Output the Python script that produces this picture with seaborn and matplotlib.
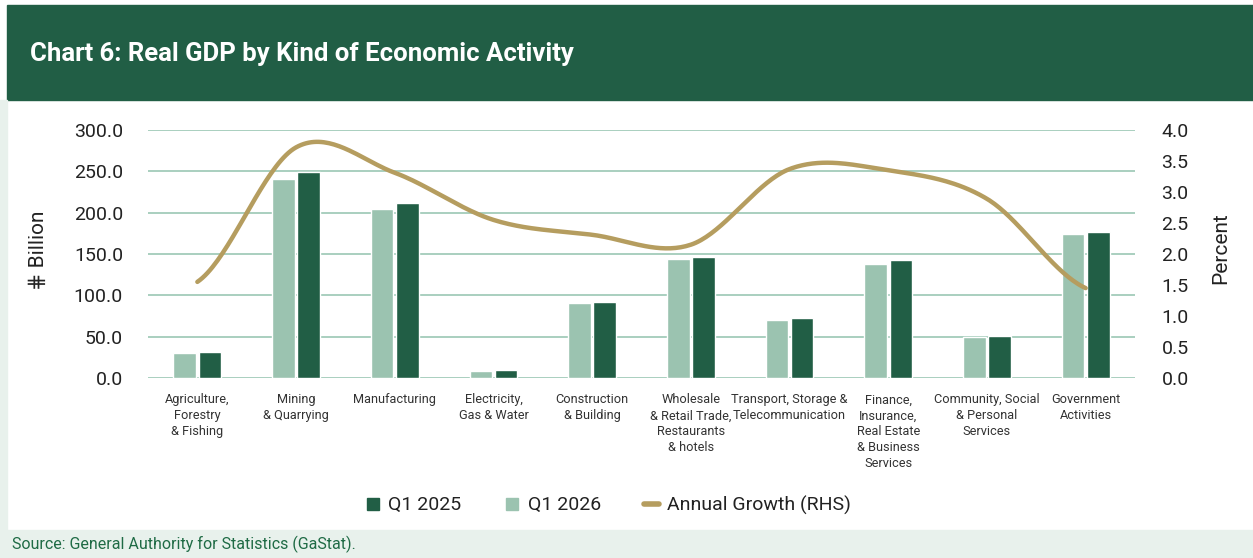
import numpy as np
import pandas as pd
import matplotlib
matplotlib.use("Agg")
import matplotlib.pyplot as plt
import seaborn as sns
from matplotlib.lines import Line2D
from matplotlib.patches import Rectangle

# Data
categories = [
    "Agriculture,\nForestry\n& Fishing",
    "Mining\n& Quarrying",
    "Manufacturing",
    "Electricity,\nGas & Water",
    "Construction\n& Building",
    "Wholesale\n& Retail Trade,\nRestaurants\n& hotels",
    "Transport, Storage &\nTelecommunication",
    "Finance,\nInsurance,\nReal Estate\n& Business\nServices",
    "Community, Social\n& Personal\nServices",
    "Government\nActivities",
]
q1_2025 = [31.4, 249.2, 211.7, 9.4, 92.3, 146.8, 72.6, 142.7, 50.8, 177.0]
q1_2026 = [30.6, 240.3, 204.8, 8.9, 90.7, 144.0, 70.2, 138.3, 49.2, 174.6]
growth = [1.55, 3.72, 3.31, 2.55, 2.31, 2.15, 3.37, 3.35, 2.89, 1.45]
left_ticks = [0, 50, 100, 150, 200, 250, 300]
right_ticks = [0.0, 0.5, 1.0, 1.5, 2.0, 2.5, 3.0, 3.5, 4.0]

dark_green = "#215e45"
light_green = "#9bc3b0"
gold = "#b59d5f"
grid_col = "#a9cfbf"
pale = "#e8f1ec"

sns.set_theme(style="white")
plt.rcParams['font.family'] = ['Roboto', 'DejaVu Sans']

df = pd.DataFrame({
    "Activity": categories * 2,
    "Period": ["Q1 2026"] * len(categories) + ["Q1 2025"] * len(categories),
    "Value": q1_2026 + q1_2025,
})

fig = plt.figure(figsize=(12.53, 5.58), dpi=100)
fig.patch.set_facecolor("white")

# frame pieces: title band, left strip, source band
fig.patches.append(Rectangle((7 / 1253, 1 - 100 / 558), 1, 95 / 558, transform=fig.transFigure,
                             color=dark_green, zorder=0))
fig.patches.append(Rectangle((0, 0), 7 / 1253, 1 - 100 / 558, transform=fig.transFigure,
                             color=pale, zorder=0))
fig.patches.append(Rectangle((0, 0), 1, 28 / 558, transform=fig.transFigure,
                             color=pale, zorder=0))

fig.text(30 / 1253, 1 - 54 / 558, "Chart 6: Real GDP by Kind of Economic Activity",
         color="white", fontsize=18.5, fontweight="bold", va="center", ha="left")
fig.text(12 / 1253, 1 - 544 / 558, "Source: General Authority for Statistics (GaStat).",
         color="#1f6b45", fontsize=11.5, va="center", ha="left")

ax = fig.add_axes([148 / 1253, 1 - 378 / 558, 987 / 1253, 248 / 558])
sns.barplot(data=df, x="Activity", y="Value", hue="Period", hue_order=["Q1 2026", "Q1 2025"],
            palette=[light_green, dark_green], saturation=1, width=0.51, gap=0.1,
            legend=False, ax=ax)
ax.set_ylim(0, 300)
ax.set_xlim(-0.5, len(categories) - 0.5)
ax.set_yticks(left_ticks)
ax.set_yticklabels([f"{v:.1f}" for v in left_ticks])
ax.yaxis.grid(True, color=grid_col, lw=1.4)
ax.set_axisbelow(True)
for s in ax.spines.values():
    s.set_visible(False)
ax.tick_params(axis="y", length=0, pad=18, labelsize=14, labelcolor="#222222")
ax.tick_params(axis="x", length=0, pad=11, labelsize=9.2, labelcolor="#333333")
ax.set_xlabel("")
ax.set_ylabel("")
for lab in ax.get_xticklabels():
    lab.set_linespacing(1.3)
    lab.set_verticalalignment("top")
    lab.set_horizontalalignment("center")

# growth line, smoothed like the source chart (Catmull-Rom through the points)
ax2 = ax.twinx()
xp = np.arange(len(growth), dtype=float)
yp = np.array(growth)
xs, ys = [], []
for i in range(len(xp) - 1):
    y0 = yp[i - 1] if i > 0 else yp[i]
    y3 = yp[i + 2] if i + 2 < len(yp) else yp[i + 1]
    m1 = (yp[i + 1] - y0) / 2
    m2 = (y3 - yp[i]) / 2
    t = np.linspace(0, 1, 40)
    h00 = 2 * t**3 - 3 * t**2 + 1
    h10 = t**3 - 2 * t**2 + t
    h01 = -2 * t**3 + 3 * t**2
    h11 = t**3 - t**2
    xs.append(xp[i] + t)
    ys.append(h00 * yp[i] + h10 * m1 + h01 * yp[i + 1] + h11 * m2)
ax2.plot(np.concatenate(xs), np.concatenate(ys), color=gold, lw=3.2, solid_capstyle="round")
ax2.set_ylim(0, 4)
ax2.set_yticks(right_ticks)
ax2.set_yticklabels([f"{v:.1f}" for v in right_ticks])
for s in ax2.spines.values():
    s.set_visible(False)
ax2.tick_params(axis="y", length=0, pad=19, labelsize=14, labelcolor="#222222")
ax2.grid(False)

fig.text(38 / 1253, 1 - 250 / 558, "\u22d5 Billion", rotation=90, fontsize=15,
         va="center", ha="center", color="#222222")
fig.text(1221 / 1253, 1 - 248 / 558, "Percent", rotation=90, fontsize=15,
         va="center", ha="center", color="#222222")

handles = [
    Line2D([], [], marker="s", linestyle="none", markersize=9, color=dark_green),
    Line2D([], [], marker="s", linestyle="none", markersize=9, color=light_green),
    Line2D([], [], color=gold, lw=4, solid_capstyle="round"),
]
fig.legend(handles, ["Q1 2025", "Q1 2026", "Annual Growth (RHS)"], loc="center",
           bbox_to_anchor=(608 / 1253, 1 - 505 / 558), ncol=3, frameon=False,
           fontsize=14, handlelength=0.8, handletextpad=0.4, columnspacing=2.2,
           labelcolor="#222222")

fig.savefig("out.png", dpi=100, facecolor="white")
